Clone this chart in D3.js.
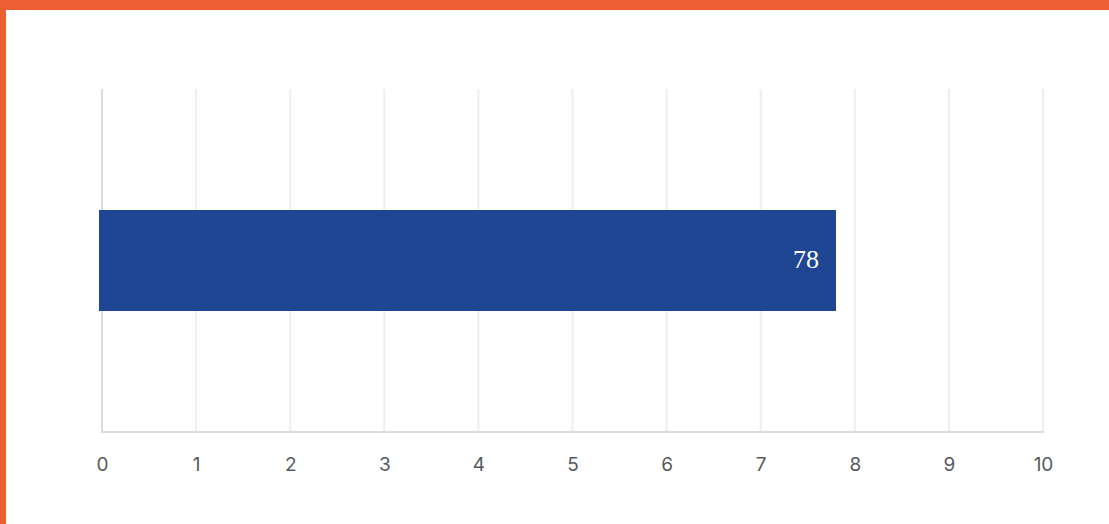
<!DOCTYPE html>
<html>
<head>
<meta charset="utf-8">
<script src="https://cdn.jsdelivr.net/npm/d3@7"></script>
<style>
  html, body { margin: 0; padding: 0; background: #fff; }
  svg { display: block; }
</style>
</head>
<body>
<svg width="1109" height="524"></svg>
<script>
// chart values
const categories = ['A'];
const values = [7.8];
const labels = ['78'];
const ticks = [0, 1, 2, 3, 4, 5, 6, 7, 8, 9, 10];

const svg = d3.select('svg');
const width = +svg.attr('width');
const height = +svg.attr('height');

// orange frame (top + left)
svg.append('rect').attr('x', 0).attr('y', 0).attr('width', width).attr('height', 10).attr('fill', '#ec5f32');
svg.append('rect').attr('x', 0).attr('y', 0).attr('width', 6).attr('height', height).attr('fill', '#ec5f32');

const x = d3.scaleLinear().domain([0, 10]).range([102, 1043]);
const y = d3.scaleBand().domain(categories).range([89, 432])
  .paddingInner(0.1).paddingOuter(1.078);

const g = svg.append('g');

// grid lines
g.selectAll('line.grid')
  .data(ticks)
  .enter().append('line')
  .attr('class', 'grid')
  .attr('x1', d => x(d)).attr('x2', d => x(d))
  .attr('y1', 89).attr('y2', 432)
  .attr('stroke', d => d === 0 ? '#dcdcdc' : '#eeeeee')
  .attr('stroke-width', 2);

// bottom axis
const axis = g.append('g')
  .attr('transform', 'translate(0,432)')
  .call(d3.axisBottom(x).tickValues(ticks).tickSize(0).tickPadding(26).tickFormat(d3.format('d')));
axis.select('.domain').attr('stroke', '#dcdcdc').attr('stroke-width', 2)
  .attr('d', `M${x(0) - 1},0H${x(10) + 1}`);
axis.selectAll('text')
  .attr('font-family', 'Inter, sans-serif')
  .attr('font-size', 19)
  .attr('fill', '#555a60');

// bars
g.selectAll('rect.bar')
  .data(values)
  .enter().append('rect')
  .attr('class', 'bar')
  .attr('x', x(0) - 3)
  .attr('y', (d, i) => y(categories[i]))
  .attr('width', d => x(d) - x(0) + 3)
  .attr('height', y.bandwidth())
  .attr('fill', '#1f4693');

// value labels
g.selectAll('text.val')
  .data(values)
  .enter().append('text')
  .attr('class', 'val')
  .attr('x', d => x(d) - 17)
  .attr('y', (d, i) => y(categories[i]) + y.bandwidth() / 2)
  .attr('dy', '0.3em')
  .attr('text-anchor', 'end')
  .attr('font-family', '"Liberation Serif", Georgia, serif')
  .attr('font-size', 26)
  .attr('fill', '#fff')
  .text((d, i) => labels[i]);
</script>
</body>
</html>
